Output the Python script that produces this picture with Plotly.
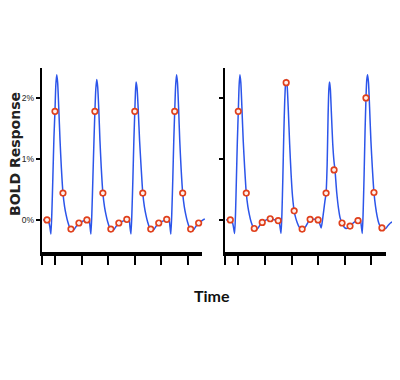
import plotly.graph_objects as go

# ---------------- data ----------------
# Left panel: continuous BOLD curve (time in s, response in %)
left_t = [0.5, 2.0, 2.7, 3.1, 3.45, 3.8, 4.2, 4.6, 5.0, 5.3, 5.65, 6.0, 6.4, 6.9, 7.4, 8.0, 8.6, 9.2, 9.8, 10.4,
          11.0, 11.6, 12.3, 13.2, 14.0, 15.0, 16.0, 17.0, 17.5, 17.9, 18.2, 18.5,
          18.85, 19.25, 19.65, 20.0, 20.35, 20.7, 21.05, 21.45, 21.9, 22.4, 23.0, 23.6, 24.2, 24.8, 25.4,
          26.0, 26.6, 27.3, 28.2, 29.0, 30.0, 31.0, 32.0, 32.5, 32.9, 33.2, 33.55,
          33.9, 34.3, 34.65, 35.0, 35.25, 35.5, 35.85, 36.3, 36.8, 37.4, 38.0, 38.6, 39.2, 39.8, 40.4,
          41.0, 41.6, 42.3, 43.2, 44.0, 45.0, 46.0, 47.0, 47.5, 47.9, 48.25, 48.55,
          48.9, 49.3, 49.65, 50.0, 50.35, 50.7, 51.05, 51.45, 51.9, 52.4, 53.0, 53.6, 54.2, 54.8, 55.4,
          56.0, 56.6, 57.3, 58.2, 59.0, 60.0, 61.0, 61.3]
left_v = [0.00, 0.00, -0.04, -0.12, -0.23, 0.10, 0.70, 1.35, 1.80, 2.20, 2.38, 2.25, 1.85, 1.30, 0.85, 0.44, 0.22, 0.08, -0.03, -0.11,
          -0.15, -0.17, -0.15, -0.09, -0.05, -0.03, -0.01, 0.00, 0.03, 0.00, -0.12, -0.23,
          0.10, 0.70, 1.30, 1.78, 2.15, 2.30, 2.18, 1.82, 1.30, 0.85, 0.44, 0.22, 0.08, -0.03, -0.11,
          -0.15, -0.17, -0.15, -0.09, -0.05, -0.03, -0.01, 0.01, 0.04, 0.01, -0.12, -0.23,
          0.10, 0.70, 1.30, 1.78, 2.10, 2.26, 2.16, 1.80, 1.30, 0.85, 0.44, 0.22, 0.08, -0.03, -0.11,
          -0.15, -0.17, -0.15, -0.09, -0.05, -0.03, -0.01, 0.01, 0.04, 0.01, -0.12, -0.23,
          0.10, 0.70, 1.30, 1.78, 2.20, 2.38, 2.25, 1.85, 1.30, 0.85, 0.44, 0.22, 0.08, -0.03, -0.11,
          -0.15, -0.17, -0.15, -0.09, -0.05, -0.02, 0.01, 0.02]

# Left panel: sampled points (one every 3 s)
left_sample_t = [2, 5, 8, 11, 14, 17, 20, 23, 26, 29, 32, 35, 38, 41, 44, 47, 50, 53, 56, 59]
left_sample_v = [0.00, 1.78, 0.44, -0.15, -0.05, 0.00, 1.78, 0.44, -0.15, -0.05,
                 0.01, 1.78, 0.44, -0.15, -0.05, 0.01, 1.78, 0.44, -0.15, -0.05]

# Right panel: continuous BOLD curve (jittered onsets)
right_t = [0.4, 2.0, 2.8, 3.2, 3.6, 3.95, 4.3, 4.65, 5.0, 5.3, 5.6, 5.95, 6.35, 6.85, 7.4, 8.0, 8.6, 9.2, 9.8, 10.4,
           11.0, 11.6, 12.3, 13.2, 14.0, 15.0, 16.0, 17.0, 18.0, 19.0, 20.0, 20.5, 21.05,
           21.4, 21.75, 22.1, 22.45, 22.8, 23.1, 23.4, 23.8, 24.3, 24.85, 25.4, 26.0, 26.6, 27.2, 27.8,
           28.4, 29.0, 29.6, 30.3, 31.2, 32.0, 33.0, 34.0, 35.0, 35.6, 36.15,
           36.6, 37.1, 37.6, 38.0, 38.4, 38.75, 39.05, 39.3, 39.6, 40.0, 40.5, 41.0, 41.35, 42.0, 42.7,
           43.3, 44.0, 44.7, 45.5, 46.3, 47.2, 48.2, 49.2, 50.0, 50.6, 51.0, 51.3, 51.6,
           51.95, 52.3, 52.65, 53.0, 53.3, 53.6, 53.95, 54.35, 54.85, 55.4, 56.0, 56.6, 57.2, 57.8,
           58.4, 59.0, 59.7, 60.4, 61.3, 62.2, 63.0, 63.7, 64.5]
right_v = [0.00, 0.00, -0.04, -0.12, -0.22, 0.10, 0.70, 1.30, 1.78, 2.20, 2.38, 2.25, 1.85, 1.30, 0.85, 0.44, 0.22, 0.08, -0.03, -0.10,
           -0.14, -0.16, -0.14, -0.08, -0.04, -0.01, 0.01, 0.02, 0.01, 0.00, -0.01, -0.06, -0.22,
           0.10, 0.70, 1.40, 1.95, 2.25, 2.30, 2.18, 1.80, 1.25, 0.75, 0.38, 0.15, 0.03, -0.05, -0.11,
           -0.14, -0.15, -0.15, -0.11, -0.04, 0.01, 0.01, 0.01, 0.00, -0.06, -0.13,
           -0.02, 0.15, 0.32, 0.44, 0.90, 1.70, 2.15, 2.26, 2.15, 1.75, 1.25, 0.95, 0.82, 0.45, 0.18,
           0.03, -0.05, -0.11, -0.14, -0.13, -0.10, -0.05, -0.02, -0.01, 0.03, -0.02, -0.12, -0.22,
           0.15, 0.75, 1.45, 2.00, 2.30, 2.38, 2.25, 1.85, 1.30, 0.85, 0.45, 0.22, 0.06, -0.05,
           -0.11, -0.13, -0.15, -0.14, -0.09, -0.05, -0.03, -0.02, 0.01]

right_sample_t = [2, 5, 8, 11, 14, 17, 20, 23, 26, 29, 32, 35, 38, 41, 44, 47, 50, 53, 56, 59]
right_sample_v = [0.00, 1.78, 0.44, -0.14, -0.04, 0.02, -0.01, 2.25, 0.15, -0.15,
                  0.01, 0.00, 0.44, 0.82, -0.05, -0.10, -0.01, 2.00, 0.45, -0.13]

x_tickvals = [0, 5, 15, 25, 35, 45, 55]
y_tickvals = [0, 1, 2]
y_ticktext = ["0%", "1%", "2%"]

# ---------------- styling / layout ----------------
OFF = 8                      # default page body margin
W, H = 400 - OFF, 380 - OFF  # figure size so it fits the window
PX_PER_S = 2.66
LINE_COLOR = "#2c55ea"
DOT_COLOR = "#e0401c"

def px(x):
    return (x - OFF) / W

def py(y):
    return (H - (y - OFF)) / H

left_x0, right_x0 = 41.7, 225.0
data_end_left, data_end_right = 61.5, 64.8
axis_end = 60.4

fig = go.Figure()

def add_panel(t, v, st, sv, xa, ya):
    fig.add_trace(go.Scatter(x=t, y=v, mode="lines", xaxis=xa, yaxis=ya,
                             line=dict(color=LINE_COLOR, width=1.5, shape="spline", smoothing=0.6),
                             hoverinfo="skip", showlegend=False))
    fig.add_trace(go.Scatter(x=st, y=sv, mode="markers", xaxis=xa, yaxis=ya,
                             marker=dict(symbol="circle", size=5.5, color="rgba(255,240,235,1)",
                                         line=dict(color=DOT_COLOR, width=1.7)),
                             cliponaxis=False, hoverinfo="skip", showlegend=False))

add_panel(left_t, left_v, left_sample_t, left_sample_v, "x", "y")
add_panel(right_t, right_v, right_sample_t, right_sample_v, "x2", "y2")
# empty traces to register the tick axes
fig.add_trace(go.Scatter(x=[], y=[], xaxis="x3", yaxis="y", showlegend=False, hoverinfo="skip"))
fig.add_trace(go.Scatter(x=[], y=[], xaxis="x4", yaxis="y2", showlegend=False, hoverinfo="skip"))

ydom = [py(252), py(68)]
yrange = [-0.525, 2.49]

hidden = dict(visible=False, showgrid=False, zeroline=False, fixedrange=True)
fig.update_layout(
    width=W, height=H, margin=dict(l=0, r=0, t=0, b=0),
    paper_bgcolor="white", plot_bgcolor="rgba(0,0,0,0)",
    xaxis=dict(domain=[px(left_x0), px(left_x0 + data_end_left * PX_PER_S)], range=[0, data_end_left],
               anchor="y", **hidden),
    xaxis2=dict(domain=[px(right_x0), px(right_x0 + data_end_right * PX_PER_S)], range=[0, data_end_right],
                anchor="y2", **hidden),
)

tick_axis = dict(range=[0, axis_end], showline=True, linewidth=4, linecolor="black",
                 ticks="outside", ticklen=9, tickwidth=2, tickcolor="black",
                 tickvals=x_tickvals, showticklabels=False, showgrid=False, zeroline=False)
fig.update_layout(
    xaxis3=dict(domain=[px(left_x0), px(left_x0 + axis_end * PX_PER_S)], anchor="y", **tick_axis),
    xaxis4=dict(domain=[px(right_x0), px(right_x0 + axis_end * PX_PER_S)], anchor="y2", **tick_axis),
)

y_axis = dict(domain=ydom, range=yrange, showline=True, linewidth=2, linecolor="black",
              ticks="outside", ticklen=4, tickwidth=2, tickcolor="black",
              tickvals=y_tickvals, ticktext=y_ticktext, showgrid=False, zeroline=False,
              tickfont=dict(family="Liberation Sans", size=8.5, color="#222222"))
fig.update_layout(
    yaxis=dict(anchor="x3", showticklabels=True, **y_axis),
    yaxis2=dict(anchor="x4", showticklabels=False, **y_axis),
)

fig.add_annotation(x=px(15), y=py(154), xref="paper", yref="paper", text="<b>BOLD Response</b>",
                   textangle=-90, showarrow=False, xanchor="center", yanchor="middle",
                   font=dict(family="DejaVu Sans", size=14, color="#222222"))
fig.add_annotation(x=px(211.7), y=py(295), xref="paper", yref="paper", text="<b>Time</b>",
                   showarrow=False, xanchor="center", yanchor="middle",
                   font=dict(family="Lato", size=16, color="#111111"))

fig.write_html("out.html")
